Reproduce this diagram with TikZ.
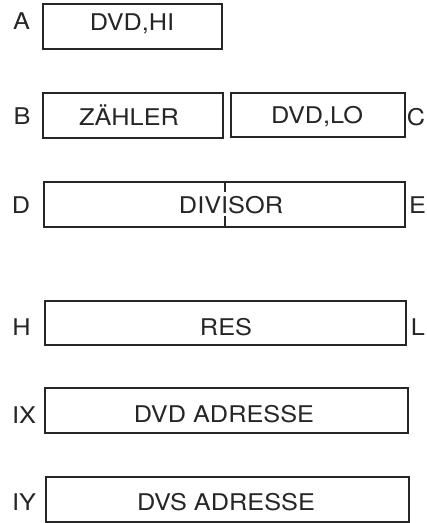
\documentclass[tikz,border=0pt]{standalone}
\usepackage{fontspec}
\setmainfont{TeX Gyre Heros}[FakeStretch=1.1]
\begin{document}
\begin{tikzpicture}[x=1pt,y=-1pt,
  reg/.style={draw=black!85,line width=1.3pt},
  lbl/.style={anchor=base,inner sep=0pt,font=\fontsize{23}{23}\selectfont,text=black!85}]
\useasboundingbox (0,0) rectangle (427,523);
% registers
\draw[reg] (43,4) rectangle (222,49);
\draw[reg] (43,93) rectangle (223,138);
\draw[reg] (231,93) rectangle (405,137);
\draw[reg] (44,182) rectangle (405,227);
\draw[reg] (45,301) rectangle (406,345);
\draw[reg] (45,388) rectangle (408,433);
\draw[reg] (46,477) rectangle (409,522);
% divider in DIVISOR
\draw[reg] (225,182) -- (225,192);
\draw[reg] (225,216) -- (225,227);
% texts
\node[lbl] (la) at (21.5,29) {A};
\node[lbl] (tdvdhi) at (132,30) {DVD,HI};
\node[lbl] (lb) at (22,124) {B};
\node[lbl] (tz) at (129,125) {ZÄHLER};
\node[lbl] (tdvdlo) at (317,123) {DVD,LO};
\node[lbl] (lc) at (416,125) {C};
\node[lbl] (ld) at (21,213) {D};
\node[lbl] (tdiv) at (231,213) {DIVISOR};
\node[lbl] (le) at (417.5,213) {E};
\node[lbl] (lh) at (21.5,335) {H};
\node[lbl] (tres) at (226,335) {RES};
\node[lbl] (ll) at (418,335) {L};
\node[lbl] (lix) at (24,423) {IX};
\node[lbl] (tdvd) at (224,422) {DVD ADRESSE};
\node[lbl] (liy) at (24,510) {IY};
\node[lbl] (tdvs) at (226,510) {DVS ADRESSE};
\end{tikzpicture}
\end{document}
